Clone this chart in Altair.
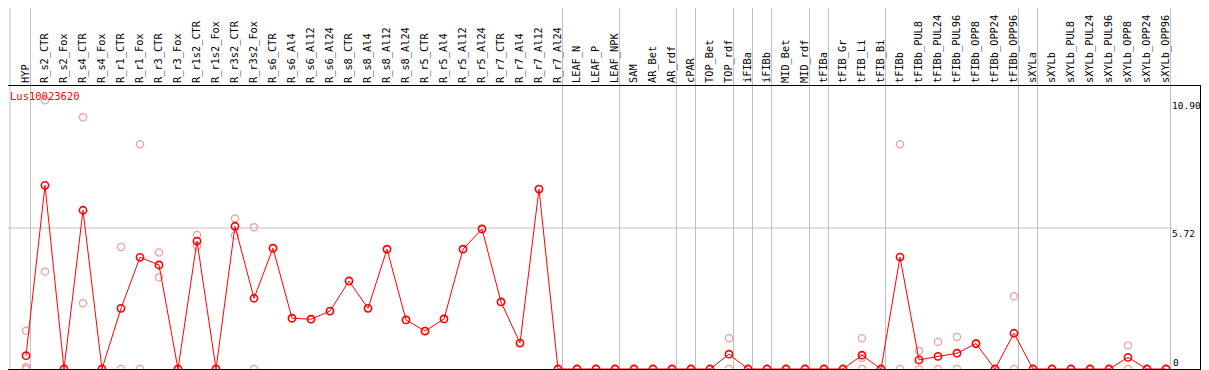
import altair as alt
import pandas as pd

# ---------------- data ----------------
columns = [
    "HYP", "R_s2_CTR", "R_s2_Fox", "R_s4_CTR", "R_s4_Fox", "R_r1_CTR", "R_r1_Fox",
    "R_r3_CTR", "R_r3_Fox", "R_r1s2_CTR", "R_r1s2_Fox", "R_r3s2_CTR", "R_r3s2_Fox",
    "R_s6_CTR", "R_s6_Al4", "R_s6_Al12", "R_s6_Al24", "R_s8_CTR", "R_s8_Al4",
    "R_s8_Al12", "R_s8_Al24", "R_r5_CTR", "R_r5_Al4", "R_r5_Al12", "R_r5_Al24",
    "R_r7_CTR", "R_r7_Al4", "R_r7_Al12", "R_r7_Al24", "LEAF_N", "LEAF_P", "LEAF_NPK",
    "SAM", "AR_Bet", "AR_rdf", "cPAR", "TOP_Bet", "TOP_rdf", "iFIBa", "iFIBb",
    "MID_Bet", "MID_rdf", "tFIBa", "tFIB_Gr", "tFIB_Li", "tFIB_Bi", "tFIBb",
    "tFIBb_PUL8", "tFIBb_PUL24", "tFIBb_PUL96", "tFIBb_OPP8", "tFIBb_OPP24",
    "tFIBb_OPP96", "sXYLa", "sXYLb", "sXYLb_PUL8", "sXYLb_PUL24", "sXYLb_PUL96",
    "sXYLb_OPP8", "sXYLb_OPP24", "sXYLb_OPP96",
]

means = [
    0.54, 7.45, 0, 6.44, 0, 2.46, 4.53, 4.22, 0, 5.19, 0, 5.79, 2.87,
    4.90, 2.06, 2.02, 2.35, 3.57, 2.46, 4.86, 1.99, 1.54, 2.03, 4.86, 5.68,
    2.72, 1.05, 7.30, 0, 0, 0, 0,
    0, 0, 0, 0, 0, 0.60, 0, 0,
    0, 0, 0, 0, 0.56, 0, 4.54,
    0.37, 0.51, 0.64, 1.03, 0,
    1.45, 0, 0, 0, 0, 0,
    0.47, 0, 0,
]

replicates = [
    [1.55, 0.07, 0], [10.90, 3.95], [0, 0], [10.21, 2.67], [0, 0], [4.95, 0], [9.12, 0],
    [4.73, 3.72], [0, 0], [5.44, 4.99], [0, 0], [6.11, 5.42], [5.75, 0],
    [4.90], [2.06], [2.02], [2.35], [3.57], [2.46], [4.86], [1.99], [1.54], [2.03],
    [4.86], [5.68], [2.72], [1.05], [7.30], [0, 0], [0, 0], [0, 0], [0, 0],
    [0, 0], [0, 0], [0, 0], [0, 0], [0, 0], [1.25, 0], [0, 0], [0, 0],
    [0, 0], [0, 0], [0, 0], [0, 0], [1.25, 0.45, 0], [0, 0], [9.12, 0],
    [0.73, 0], [1.10, 0], [1.30, 0], [1.05, 1.00], [0, 0],
    [2.95, 0], [0, 0], [0, 0], [0, 0], [0, 0], [0, 0],
    [0.96, 0], [0, 0], [0, 0],
]

# index of the last column of each group (a separator follows it)
group_ends = [0, 28, 31, 34, 35, 37, 38, 39, 41, 42, 45, 52, 53, 60]
grid_values = [5.72]
axis_ticks = [10.90, 5.72, 0]
axis_labels = ["10.90", "5.72", "0"]
gene_title = "Lus10023620"

# ---------------- tables ----------------
main_df = pd.DataFrame({"idx": list(range(len(columns))), "name": columns, "value": means})
rep_df = pd.DataFrame(
    [{"idx": i, "value": v} for i, reps in enumerate(replicates) for v in reps]
)
sep_df = pd.DataFrame({"pos": [-16 / 19] + [g + 4.5 / 19 for g in group_ends]})
grid_df = pd.DataFrame({"value": grid_values})
tick_df = pd.DataFrame({"value": axis_ticks, "label": axis_labels})
title_df = pd.DataFrame({"t": [gene_title]})

# ---------------- layout ----------------
W, H = 1193, 284
STEP = 19.0
x_scale = alt.Scale(domain=[-18 / STEP, (W - 18) / STEP], nice=False, zero=False)
y_scale = alt.Scale(domain=[0, H / 24.65], nice=False, zero=False)
X = lambda f: alt.X(f, scale=x_scale, axis=None)
Y = lambda f: alt.Y(f, scale=y_scale, axis=None)

MONO = "DejaVu Sans Mono"
GRAY = "#c0c0c0"

separators = alt.Chart(sep_df).mark_rule(color=GRAY, strokeWidth=1).encode(
    x=X("pos:Q"), y=alt.value(-77), y2=alt.value(H)
)

grid = alt.Chart(grid_df).mark_rule(color=GRAY, strokeWidth=1).encode(
    y=Y("value:Q"), x=alt.value(0), x2=alt.value(1164)
)

pinks = alt.Chart(rep_df).mark_point(
    shape="circle", filled=False, size=52, strokeWidth=1.2, color="#f09c9c", opacity=1
).encode(x=X("idx:Q"), y=Y("value:Q"))

line = alt.Chart(main_df).mark_line(color="#ff0000", strokeWidth=1).encode(
    x=X("idx:Q"), y=Y("value:Q"), order="idx:Q"
)

mains = alt.Chart(main_df).mark_point(
    shape="circle", filled=False, size=52, strokeWidth=1.6, color="#ff0000", opacity=1
).encode(x=X("idx:Q"), y=Y("value:Q"))

col_labels = alt.Chart(main_df).mark_text(
    angle=270, align="left", baseline="middle", font=MONO, fontSize=10.3, color="black"
).encode(x=X("idx:Q"), y=alt.value(-2), text="name:N")

title_mark = alt.Chart(title_df).mark_text(
    align="left", baseline="middle", font=MONO, fontSize=10.5, color="#ff0000"
).encode(x=alt.value(2), y=alt.value(12), text="t:N")

tick_top = alt.Chart(tick_df).transform_filter("datum.value > 0").mark_text(
    align="left", baseline="top", font=MONO, fontSize=9.5, color="black", dy=1
).encode(x=alt.value(1164), y=Y("value:Q"), text="label:N")

tick_bottom = alt.Chart(tick_df).transform_filter("datum.value == 0").mark_text(
    align="left", baseline="bottom", font=MONO, fontSize=9.5, color="black", dy=-1
).encode(x=alt.value(1165), y=Y("value:Q"), text="label:N")

top_border = alt.Chart(title_df).mark_rule(color="black", strokeWidth=1).encode(
    y=alt.value(0.5), x=alt.value(-8), x2=alt.value(1193)
)
bottom_border = alt.Chart(title_df).mark_rule(color="black", strokeWidth=1).encode(
    y=alt.value(H + 0.5), x=alt.value(-8), x2=alt.value(1193)
)
right_border = alt.Chart(title_df).mark_rule(color="black", strokeWidth=1).encode(
    x=alt.value(1192.5), y=alt.value(0), y2=alt.value(H + 1)
)

chart = alt.layer(
    separators, grid, pinks, line, mains, col_labels, title_mark,
    tick_top, tick_bottom, top_border, bottom_border, right_border,
).properties(
    width=W, height=H,
    autosize=alt.AutoSizeParams(type="none"),
    padding={"left": 0, "top": 77, "right": 0, "bottom": 2},
    background="white",
).configure_view(stroke=None)

chart.save("out.html", embed_options={"renderer": "svg", "actions": False})
